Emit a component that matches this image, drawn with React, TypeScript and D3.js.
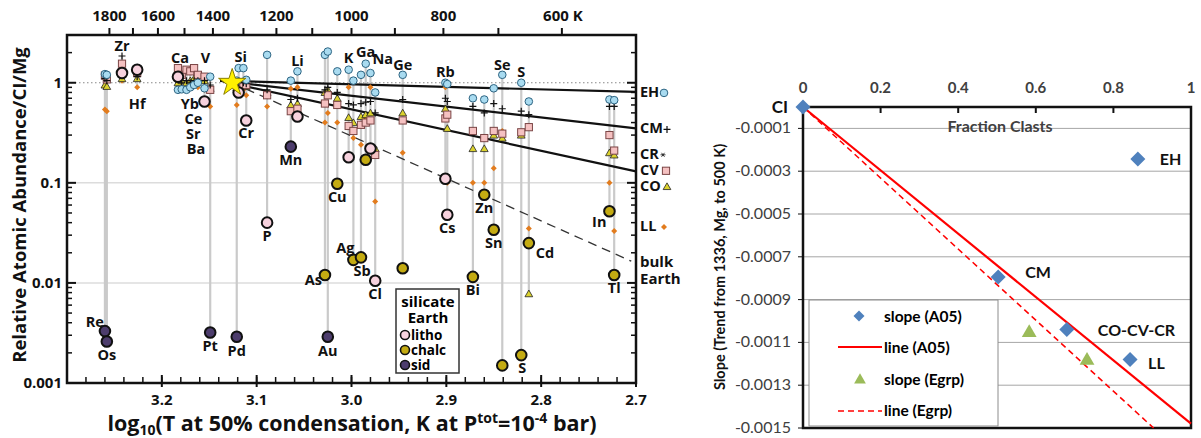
import React from "react";
import * as d3 from "d3";

// ---------- left panel: element columns ----------
const elements = ["Re", "Os", "Zr", "Hf", "Ca", "Yb", "Ce", "Sr", "Ba", "Al", "V", "Pt", "Pd", "Si", "Fe", "Cr", "P", "Mn", "Li", "As", "Au", "Cu", "K", "Ag", "Sb", "Ga", "Na", "Cl", "Ge", "Rb", "Cs", "Bi", "Zn", "Sn", "Se", "S", "Cd", "In", "Tl"];
const logT50 = [3.26, 3.258, 3.242, 3.226, 3.183, 3.179, 3.174, 3.17, 3.166, 3.162, 3.155, 3.149, 3.121, 3.119, 3.114, 3.111, 3.089, 3.064, 3.057, 3.028, 3.025, 3.015, 3.003, 2.998, 2.99, 2.985, 2.98, 2.975, 2.946, 2.901, 2.899, 2.872, 2.86, 2.85, 2.841, 2.821, 2.813, 2.728, 2.723];
const earthValue = [0.0033, 0.0026, 1.25, 1.35, 1.15, null, null, null, null, null, 0.65, 0.0032, 0.0029, 0.8, null, 0.42, 0.04, 0.23, 0.46, 0.012, 0.0029, 0.098, 0.18, 0.017, 0.018, 0.17, 0.22, 0.0105, 0.014, 0.11, 0.048, 0.0115, 0.076, 0.034, 0.0015, 0.0019, 0.025, 0.052, 0.012];
const earthType = ["sid", "sid", "litho", "litho", "litho", "", "", "", "", "", "litho", "sid", "sid", "litho", "", "litho", "litho", "sid", "litho", "chalc", "sid", "chalc", "litho", "chalc", "chalc", "chalc", "litho", "litho", "chalc", "litho", "litho", "chalc", "chalc", "chalc", "chalc", "chalc", "chalc", "chalc", "chalc"];
const ehValue = [1.22, 1.2, 1.22, 1.4, 0.85, 0.86, 0.85, 0.9, 0.95, 1.0, 0.88, 1.15, 1.05, 1.4, 1.4, 1.07, 1.9, 1.05, 1.3, 1.9, 2.05, 1.3, 1.35, 1.05, 1.2, 1.55, 1.25, 0.8, 1.2, 1.0, 0.97, 0.7, 0.68, 0.88, 1.2, 1.0, 0.65, 0.68, 0.67];
const cmValue = [1.1, 1.05, 1.85, 1.15, 1.1, 1.0, 1.05, 1.0, 1.05, 1.05, 1.05, 0.95, 1.0, 1.0, 1.0, 0.98, 0.85, 0.68, 0.7, 0.85, 0.9, 0.8, 0.62, 0.6, 0.62, 0.64, 0.65, 0.5, 0.68, 0.7, 0.65, 0.58, 0.5, 0.62, 0.55, 0.52, 0.48, 0.58, 0.58];
const cvValue = [1.18, 1.08, 1.55, 1.25, 1.4, 1.2, 1.35, 1.3, 1.4, 1.2, 1.15, 0.85, 0.95, 1.0, 0.95, 0.95, 0.75, 0.52, 0.55, 0.62, 0.75, 0.6, 0.37, 0.33, 0.38, 0.4, 0.42, 0.19, 0.42, 0.44, 0.48, 0.33, 0.28, 0.33, 0.31, 0.32, 0.36, 0.3, 0.21];
const coValue = [0.95, 0.92, 1.1, 1.1, 1.0, 1.05, 1.0, 1.05, 1.1, 1.05, 1.05, 0.88, 0.9, 0.95, 0.95, 0.92, 0.8, 0.6, 0.62, 0.8, 0.85, 0.7, 0.45, 0.4, 0.46, 0.48, 0.5, 0.22, 0.5, 0.55, 0.35, 0.22, 0.22, 0.3, 0.28, 0.3, 0.0078, 0.2, 0.19];
const llValue = [0.54, 0.52, 1.05, 0.9, 0.9, 0.9, 0.88, 0.9, 0.95, 0.9, 0.85, 0.58, 0.6, 0.9, 0.85, 0.75, 0.58, 0.87, 0.9, 0.4, 0.5, 0.4, 0.9, 0.28, 0.24, 0.45, 0.9, 0.065, 0.2, 0.9, 0.1, 0.1, 0.1, 0.14, 0.33, null, 0.035, 0.1, 0.033];

// trend lines from the 1336 K star
const starT = 1336;
const trendGroups = ["EH", "CM", "CV"];
const trendEnd = [0.81, 0.35, 0.13];
const bulkEarthEnd = 0.0165;

const tempTicks = [1800, 1700, 1600, 1500, 1400, 1300, 1200, 1100, 1000, 900, 800, 700, 600];
const tempLabels = [1800, 1600, 1400, 1200, 1000, 800, 600];
const logTicks = [3.2, 3.1, 3.0, 2.9, 2.8, 2.7];
const abundTicks = [0.001, 0.01, 0.1, 1];

const sideLabels = ["EH", "CM", "CR", "CV", "CO", "LL"];
const sideLevels = [0.81, 0.35, 0.195, 0.135, 0.094, 0.037];

// ---------- right panel ----------
const clastGroups = ["CI", "EH", "CM", "CO-CV-CR", "LL"];
const clastFraction = [0, 0.863, 0.503, 0.68, 0.843];
const slopeA05 = [0, -0.000243, -0.000794, -0.00104, -0.00118];
const egrpFraction = [0.583, 0.732];
const slopeEgrp = [-0.00105, -0.00118];
const lineSlopeA05 = -0.00148;
const lineSlopeEgrp = -0.00166;
const fracTicks = [0, 0.2, 0.4, 0.6, 0.8, 1];
const slopeTicks = [-0.0001, -0.0003, -0.0005, -0.0007, -0.0009, -0.0011, -0.0013, -0.0015];

// label placement (layout only)
type Lab = { at: "top" | "earth"; dx: number; dy: number; anchor?: string };
const labelLayout: Record<string, Lab[]> = {
  Re: [{ at: "earth", dx: -1, dy: -4, anchor: "end" }],
  Os: [{ at: "earth", dx: 0, dy: 19 }],
  Zr: [{ at: "top", dx: 0, dy: -5 }],
  Hf: [{ at: "earth", dx: 0, dy: 39 }],
  Ca: [{ at: "top", dx: 2, dy: -5 }],
  Yb: [{ at: "top", dx: 8, dy: 34 }],
  Ce: [{ at: "top", dx: 7, dy: 54 }],
  Sr: [{ at: "top", dx: 3, dy: 68 }],
  Ba: [{ at: "top", dx: 2, dy: 86 }],
  V: [{ at: "top", dx: 1, dy: -14 }],
  Pt: [{ at: "earth", dx: 0, dy: 19 }],
  Pd: [{ at: "earth", dx: 0, dy: 19 }],
  Si: [{ at: "top", dx: 2, dy: -6 }],
  Cr: [{ at: "earth", dx: 0, dy: 18 }],
  P: [{ at: "earth", dx: 0, dy: 18 }],
  Mn: [{ at: "earth", dx: 0, dy: 18 }],
  Li: [{ at: "top", dx: 0, dy: -5 }],
  As: [{ at: "earth", dx: -3, dy: 10, anchor: "end" }],
  Au: [{ at: "earth", dx: 0, dy: 19 }],
  Cu: [{ at: "earth", dx: 0, dy: 18 }],
  K: [{ at: "top", dx: 0, dy: -7 }],
  Ag: [{ at: "earth", dx: 1, dy: -7, anchor: "end" }],
  Sb: [{ at: "earth", dx: 1, dy: 19 }],
  Ga: [{ at: "top", dx: 0, dy: -7 }],
  Na: [{ at: "top", dx: 2, dy: -9, anchor: "start" }],
  Cl: [{ at: "earth", dx: 0, dy: 18 }],
  Ge: [{ at: "top", dx: 0, dy: -5 }],
  Rb: [{ at: "top", dx: 0, dy: -6 }],
  Cs: [{ at: "earth", dx: 0, dy: 18 }],
  Bi: [{ at: "earth", dx: 0, dy: 18 }],
  Zn: [{ at: "earth", dx: 0, dy: 18 }],
  Sn: [{ at: "earth", dx: 0, dy: 18 }],
  Se: [{ at: "top", dx: 0, dy: -5 }],
  S: [{ at: "top", dx: 0, dy: -6 }, { at: "earth", dx: 1, dy: 18 }],
  Cd: [{ at: "earth", dx: 7, dy: 15, anchor: "start" }],
  In: [{ at: "earth", dx: -3, dy: 16, anchor: "end" }],
  Tl: [{ at: "earth", dx: 0, dy: 18 }],
};
const sideMarkOffset: Record<string, number> = { EH: 28, CM: 31, CR: 27, CV: 30, CO: 31, LL: 28 };

const earthFill: Record<string, string> = { litho: "#f7d2de", chalc: "#c4ab12", sid: "#4d3d6d" };
const LF = "'Open Sans', 'DejaVu Sans', sans-serif";
const RF = "Lato, 'Liberation Sans', sans-serif";

const triPath = d3.symbol(d3.symbolTriangle, 26)() as string;
const diamond = (s: number) => `M0,${-s}L${s},0L0,${s}L${-s},0Z`;

function Mark({ kind, x, y }: { kind: string; x: number; y: number }) {
  if (kind === "EH") return <circle cx={x} cy={y} r={3.8} fill="#a9dbf0" stroke="#2d6482" strokeWidth={1} />;
  if (kind === "CM") return <path d={`M${x - 3.5},${y}h7M${x},${y - 3.5}v7`} stroke="#111" strokeWidth={1.2} />;
  if (kind === "CR")
    return <path d={`M${x - 2.5},${y}h5M${x - 1.5},${y - 2}l3,4M${x + 1.5},${y - 2}l-3,4`} stroke="#111" strokeWidth={0.8} />;
  if (kind === "CV") return <rect x={x - 3.6} y={y - 3.6} width={7.2} height={7.2} fill="#f5c1c1" stroke="#7a4545" strokeWidth={1} />;
  if (kind === "CO") return <path d={triPath} transform={`translate(${x},${y + 0.8})`} fill="#dbd22e" stroke="#222" strokeWidth={0.8} />;
  return <path d={diamond(3)} transform={`translate(${x},${y})`} fill="#e27c1e" />;
}

function LeftPanel() {
  const x = d3.scaleLinear().domain([3.3, 2.7]).range([67, 636]);
  const y = d3.scaleLog().domain([0.001, 3]).range([383, 35]);
  const [x0, x1] = x.range();
  const [y0, y1] = y.range();
  const groups: [string, (number | null)[]][] = [
    ["LL", llValue],
    ["CO", coValue],
    ["CV", cvValue],
    ["CM", cmValue],
    ["EH", ehValue],
  ];
  const minorY: number[] = [];
  [0.001, 0.01, 0.1, 1].forEach((d) => {
    for (let k = 2; k <= 9; k++) if (d * k <= 3) minorY.push(d * k);
  });
  const bottomTicks = d3.range(3.28, 2.69, -0.02);
  const starX = x(Math.log10(starT));
  const starY = y(1);
  const colVals = (i: number) =>
    [earthValue[i], ehValue[i], cmValue[i], cvValue[i], coValue[i], llValue[i]].filter((v) => v != null) as number[];
  return (
    <g fontFamily={LF} fontWeight={700}>
      {/* grid */}
      {[0.1, 0.01].map((v) => (
        <line key={v} x1={x0} x2={x1} y1={y(v)} y2={y(v)} stroke="#dcdcdc" strokeWidth={1.5} />
      ))}
      <line x1={x0} x2={x1} y1={y(1)} y2={y(1)} stroke="#888" strokeWidth={1.2} strokeDasharray="1.5,2.5" />
      {/* columns */}
      {elements.map((el, i) => (
        <line key={el} x1={x(logT50[i])} x2={x(logT50[i])} y1={y(d3.max(colVals(i))!)} y2={y(d3.min(colVals(i))!)} stroke="#cacaca" strokeWidth={2.2} />
      ))}
      {/* trend lines */}
      {trendEnd.map((v, i) => (
        <line key={trendGroups[i]} x1={starX - 12} y1={starY - 2} x2={x1} y2={y(v)} stroke="#111" strokeWidth={2.2} />
      ))}
      <line x1={starX} y1={starY} x2={x(2.705)} y2={y(bulkEarthEnd)} stroke="#333" strokeWidth={1.3} strokeDasharray="9,6" />
      {/* meteorite group markers */}
      {groups.map(([g, vals]) =>
        vals.map((v, i) => (v == null ? null : <Mark key={g + i} kind={g} x={x(logT50[i])} y={y(v)} />))
      )}
      {/* silicate Earth */}
      {earthValue.map((v, i) =>
        v == null ? null : (
          <circle key={"e" + i} cx={x(logT50[i])} cy={y(v)} r={5.3} fill={earthFill[earthType[i]]} stroke="#111" strokeWidth={2} />
        )
      )}
      <path d={d3.symbol(d3.symbolStar, 230)() as string} transform={`translate(${starX},${starY})`} fill="#fff200" stroke="#8a7d00" strokeWidth={1} />
      {/* element labels */}
      {elements.map((el, i) =>
        (labelLayout[el] || []).map((lab, j) => {
          const by = lab.at === "top" ? y(d3.max(colVals(i))!) : y(earthValue[i] as number);
          return (
            <text key={el + j} x={x(logT50[i]) + lab.dx} y={by + lab.dy} textAnchor={lab.anchor || "middle"} fontSize={14.5} fill="#111">
              {el}
            </text>
          );
        })
      )}
      {/* frame and axes */}
      <rect x={x0} y={y1} width={x1 - x0} height={y0 - y1} fill="none" stroke="#111" strokeWidth={2.5} />
      {abundTicks.map((v) => (
        <g key={v}>
          <line x1={x0} x2={x0 + 9} y1={y(v)} y2={y(v)} stroke="#111" strokeWidth={2} />
          <line x1={x1} x2={x1 - 9} y1={y(v)} y2={y(v)} stroke="#111" strokeWidth={2} />
          <text x={x0 - 5} y={y(v) + 5} textAnchor="end" fontSize={15} fill="#111">
            {v}
          </text>
        </g>
      ))}
      {minorY.map((v) => (
        <g key={"m" + v}>
          <line x1={x0} x2={x0 + 5} y1={y(v)} y2={y(v)} stroke="#111" strokeWidth={1.5} />
          <line x1={x1} x2={x1 - 5} y1={y(v)} y2={y(v)} stroke="#111" strokeWidth={1.5} />
        </g>
      ))}
      {bottomTicks.map((t) => (
        <line key={"b" + t} x1={x(t)} x2={x(t)} y1={y0} y2={y0 - 6} stroke="#111" strokeWidth={1.5} />
      ))}
      {logTicks.map((t) => (
        <g key={"l" + t}>
          <line x1={x(t)} x2={x(t)} y1={y0 - 8} y2={y0 + 4} stroke="#111" strokeWidth={2} />
          <text x={x(t)} y={y0 + 22} textAnchor="middle" fontSize={15} fill="#111">
            {t.toFixed(1)}
          </text>
        </g>
      ))}
      {tempTicks.map((t) => (
        <line key={"t" + t} x1={x(Math.log10(t))} x2={x(Math.log10(t))} y1={y1} y2={y1 - 7} stroke="#111" strokeWidth={2} />
      ))}
      {tempLabels.map((t) => (
        <text key={"tl" + t} x={x(Math.log10(t)) + (t === 600 ? 1 : 0)} y={21} textAnchor="middle" fontSize={15} fill="#111">
          {t === 600 ? "600 K" : t}
        </text>
      ))}
      {/* right-hand group key */}
      {sideLabels.map((s, i) => (
        <g key={s}>
          <text x={x1 + 4} y={y(sideLevels[i]) + 5} fontSize={14.5} fill="#111">
            {s}
          </text>
          <Mark kind={s} x={x1 + sideMarkOffset[s]} y={y(sideLevels[i]) + 1} />
        </g>
      ))}
      <text x={x1 + 4} y={y(0.0165) + 6} fontSize={15} fill="#111">bulk</text>
      <text x={x1 + 4} y={y(0.0112) + 6} fontSize={15} fill="#111">Earth</text>
      {/* legend */}
      <g transform="translate(396,289)">
        <rect width={63} height={84} fill="#fff" stroke="#333" strokeWidth={1.5} />
        <text x={32} y={18} textAnchor="middle" fontSize={15}>silicate</text>
        <text x={32} y={34} textAnchor="middle" fontSize={15}>Earth</text>
        {["litho", "chalc", "sid"].map((k, i) => (
          <g key={k}>
            <circle cx={9} cy={46 + i * 15} r={4.5} fill={earthFill[k]} stroke="#111" strokeWidth={1.6} />
            <text x={15} y={51 + i * 15} fontSize={13.5}>
              {k}
            </text>
          </g>
        ))}
      </g>
      {/* axis titles */}
      <text transform="translate(26,205) rotate(-90)" textAnchor="middle" fontSize={18.5} fill="#111">
        Relative Atomic Abundance/CI/Mg
      </text>
      <text x={352} y={431} textAnchor="middle" fontSize={21.5} fill="#111">
        log
        <tspan fontSize={14} dy={3.5}>10</tspan>
        <tspan dy={-3.5}>(T at 50% condensation, K at P</tspan>
        <tspan fontSize={14} dy={-8}>tot</tspan>
        <tspan dy={8}>=10</tspan>
        <tspan fontSize={14} dy={-8}>-4</tspan>
        <tspan dy={8}> bar)</tspan>
      </text>
    </g>
  );
}

function RightPanel() {
  const x = d3.scaleLinear().domain([0, 1]).range([803, 1191]);
  const y = d3.scaleLinear().domain([0, -0.0015]).range([107, 428]);
  const [x0, x1] = x.range();
  const [y0, y1] = y.range();
  const tri = d3.symbol(d3.symbolTriangle, 95)() as string;
  const triS = d3.symbol(d3.symbolTriangle, 60)() as string;
  const egrpEndX = Math.min(1, -0.0015 / lineSlopeEgrp);
  const labelOffset: Record<string, [number, number]> = {
    EH: [22, 6],
    CM: [27, 1],
    "CO-CV-CR": [31, 6],
    LL: [18, 9],
  };
  return (
    <g fontFamily={RF}>
      {slopeTicks.map((v) => (
        <g key={v}>
          <line x1={x0} x2={x1} y1={y(v)} y2={y(v)} stroke="#a6a6a6" strokeWidth={1} />
          <line x1={x0 - 5} x2={x0} y1={y(v)} y2={y(v)} stroke="#111" strokeWidth={1} />
          <text x={x0 - 12} y={y(v) + 5} textAnchor="end" fontSize={16} fill="#404040">
            {v.toFixed(4)}
          </text>
        </g>
      ))}
      <rect x={x0} y={y0} width={x1 - x0} height={y1 - y0} fill="none" stroke="#111" strokeWidth={2.5} />
      {fracTicks.map((f) => (
        <g key={f}>
          <line x1={x(f)} x2={x(f)} y1={y0} y2={y0 + 6} stroke="#111" strokeWidth={2} />
          <text x={x(f)} y={y0 - 14} textAnchor="middle" fontSize={15} fontWeight={700} fill="#404040">
            {f}
          </text>
        </g>
      ))}
      <text x={(x0 + x1) / 2 + 3} y={y0 + 25} textAnchor="middle" fontSize={16} fontWeight={700} fill="#404040">
        Fraction Clasts
      </text>
      <line x1={x(0)} y1={y(0)} x2={x(1)} y2={y(lineSlopeA05)} stroke="#ff0000" strokeWidth={2.2} />
      <line x1={x(0)} y1={y(0)} x2={x(egrpEndX)} y2={y(lineSlopeEgrp * egrpEndX)} stroke="#ff0000" strokeWidth={1.5} strokeDasharray="6,4" />
      {/* legend */}
      <g transform="translate(809,300)">
        <rect width={189} height={126} fill="#fff" stroke="#8c8c8c" strokeWidth={1} />
        <path d={diamond(5.5)} transform="translate(50,16)" fill="#4f81bd" />
        <text x={75} y={22} fontSize={15.5} fontWeight={700}>slope (A05)</text>
        <line x1={29} x2={73} y1={47} y2={47} stroke="#ff0000" strokeWidth={2.2} />
        <text x={75} y={53} fontSize={15.5} fontWeight={700}>line (A05)</text>
        <path d={triS} transform="translate(51,80)" fill="#9bbb59" />
        <text x={75} y={85} fontSize={15.5} fontWeight={700}>slope (Egrp)</text>
        <line x1={29} x2={73} y1={111} y2={111} stroke="#ff0000" strokeWidth={1.5} strokeDasharray="6,4" />
        <text x={75} y={116} fontSize={15.5} fontWeight={700}>line (Egrp)</text>
      </g>
      {clastFraction.map((f, i) => (
        <path key={clastGroups[i]} d={diamond(7.5)} transform={`translate(${x(f)},${y(slopeA05[i])})`} fill="#4f81bd" />
      ))}
      {egrpFraction.map((f, i) => (
        <path key={"g" + i} d={tri} transform={`translate(${x(f)},${y(slopeEgrp[i]) + 1})`} fill="#9bbb59" />
      ))}
      {clastGroups.map((g, i) =>
        g === "CI" ? (
          <text key={g} x={x0 - 15} y={y(0) + 6} textAnchor="end" fontSize={17} fontWeight={700} fill="#111">
            CI
          </text>
        ) : (
          <text key={g} x={x(clastFraction[i]) + labelOffset[g][0]} y={y(slopeA05[i]) + labelOffset[g][1]} fontSize={16} fontWeight={700} fill="#111">
            {g}
          </text>
        )
      )}
      <text transform="translate(725,267) rotate(-90)" textAnchor="middle" fontSize={14.5} fontWeight={700} fill="#111">
        Slope (Trend from 1336, Mg, to 500 K)
      </text>
    </g>
  );
}

export default function App() {
  return (
    <svg width={1201} height={438} style={{ position: "absolute", left: 0, top: 0, background: "#fff" }}>
      <LeftPanel />
      <RightPanel />
    </svg>
  );
}
